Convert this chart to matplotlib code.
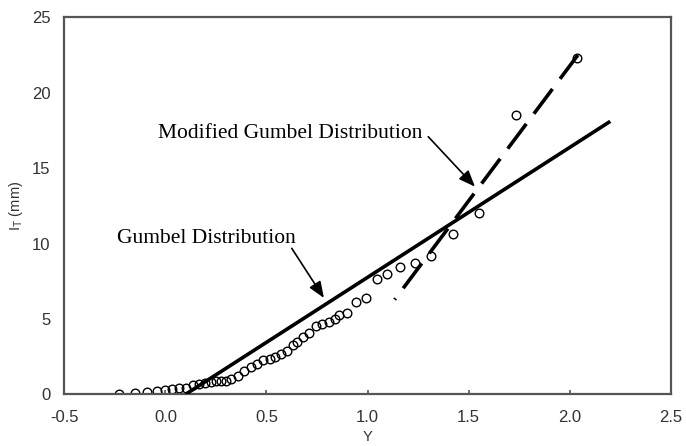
import numpy as np
import matplotlib
matplotlib.use("Agg")
import matplotlib.pyplot as plt

plt.rcParams['font.family'] = 'Liberation Sans'
plt.rcParams['mathtext.fontset'] = 'custom'
plt.rcParams['mathtext.rm'] = 'Liberation Sans'
plt.rcParams['lines.scale_dashes'] = False

# observed points (reduced variate Y, intensity I_T in mm)
y_obs = [-0.23, -0.15, -0.09, -0.04, 0.0, 0.035, 0.065, 0.10, 0.135, 0.165,
         0.195, 0.225, 0.25, 0.275, 0.30, 0.325, 0.36, 0.39, 0.425, 0.455,
         0.485, 0.515, 0.54, 0.57, 0.60, 0.63, 0.65, 0.68, 0.71, 0.745,
         0.775, 0.81, 0.84, 0.86, 0.90, 0.945, 0.99, 1.045, 1.095, 1.16,
         1.235, 1.315, 1.42, 1.55, 1.735, 2.035]
i_obs = [0.05, 0.1, 0.15, 0.22, 0.3, 0.36, 0.42, 0.45, 0.62, 0.7,
         0.78, 0.82, 0.86, 0.88, 0.9, 1.0, 1.2, 1.55, 1.8, 2.0,
         2.25, 2.32, 2.45, 2.7, 2.9, 3.25, 3.5, 3.8, 4.05, 4.55,
         4.68, 4.8, 5.0, 5.25, 5.4, 6.15, 6.4, 7.65, 8.0, 8.45,
         8.7, 9.15, 10.65, 12.0, 18.5, 22.3]

# fitted lines (end points)
gumbel_y = [0.10, 2.20]
gumbel_i = [0.0, 18.1]
mod_y = [1.134, 2.04]
mod_i = [6.28, 22.5]

xticks = [-0.5, 0.0, 0.5, 1.0, 1.5, 2.0, 2.5]
yticks = [0, 5, 10, 15, 20, 25]

fig = plt.figure(figsize=(6.86, 4.46), dpi=100)
ax = fig.add_axes([0.0937, 0.1159, 0.8843, 0.8453])

ax.plot(y_obs, i_obs, 'o', ms=6.2, mfc='none', mec='black', mew=1.0, zorder=2)
ax.plot(gumbel_y, gumbel_i, '-', color='black', lw=2.6, solid_capstyle='butt', zorder=3)
ax.plot(mod_y, mod_i, color='black', lw=2.6, dash_capstyle='butt',
        linestyle=(21.2, (22.3, 9.1)), zorder=3)

ax.set_xlim(-0.5, 2.5)
ax.set_ylim(0, 25)
ax.set_xticks(xticks)
ax.set_xticklabels(['%.1f' % t for t in xticks])
ax.set_yticks(yticks)
ax.tick_params(axis='x', direction='in', length=3, width=1.2, color='#555555',
               labelsize=12, labelcolor='#333333', pad=11)
ax.tick_params(axis='y', length=0, labelsize=12, labelcolor='#333333', pad=10)
for s in ax.spines.values():
    s.set_color('#555555')
    s.set_linewidth(1.6)

ax.set_xlabel('Y', fontsize=10.5, color='#333333', labelpad=4)
ax.set_ylabel(r'I$_\mathrm{T}$ (mm)', fontsize=10.5, color='#333333', labelpad=5)

arrow = dict(arrowstyle='-|>,head_length=0.55,head_width=0.22', color='black',
             lw=1.2, mutation_scale=18, shrinkA=0, shrinkB=0)
ax.text(-0.24, 10.03, 'Gumbel Distribution', family='Liberation Serif',
        fontsize=15.5, va='baseline', ha='left', zorder=4)
ax.annotate('', xy=(0.784, 6.39), xytext=(0.625, 9.68), arrowprops=arrow)
ax.text(-0.035, 17.0, 'Modified Gumbel Distribution', family='Liberation Serif',
        fontsize=15.5, va='baseline', ha='left', zorder=4)
ax.annotate('', xy=(1.531, 13.77), xytext=(1.30, 17.08), arrowprops=arrow)

fig.savefig('out.png', dpi=100, facecolor='white')
